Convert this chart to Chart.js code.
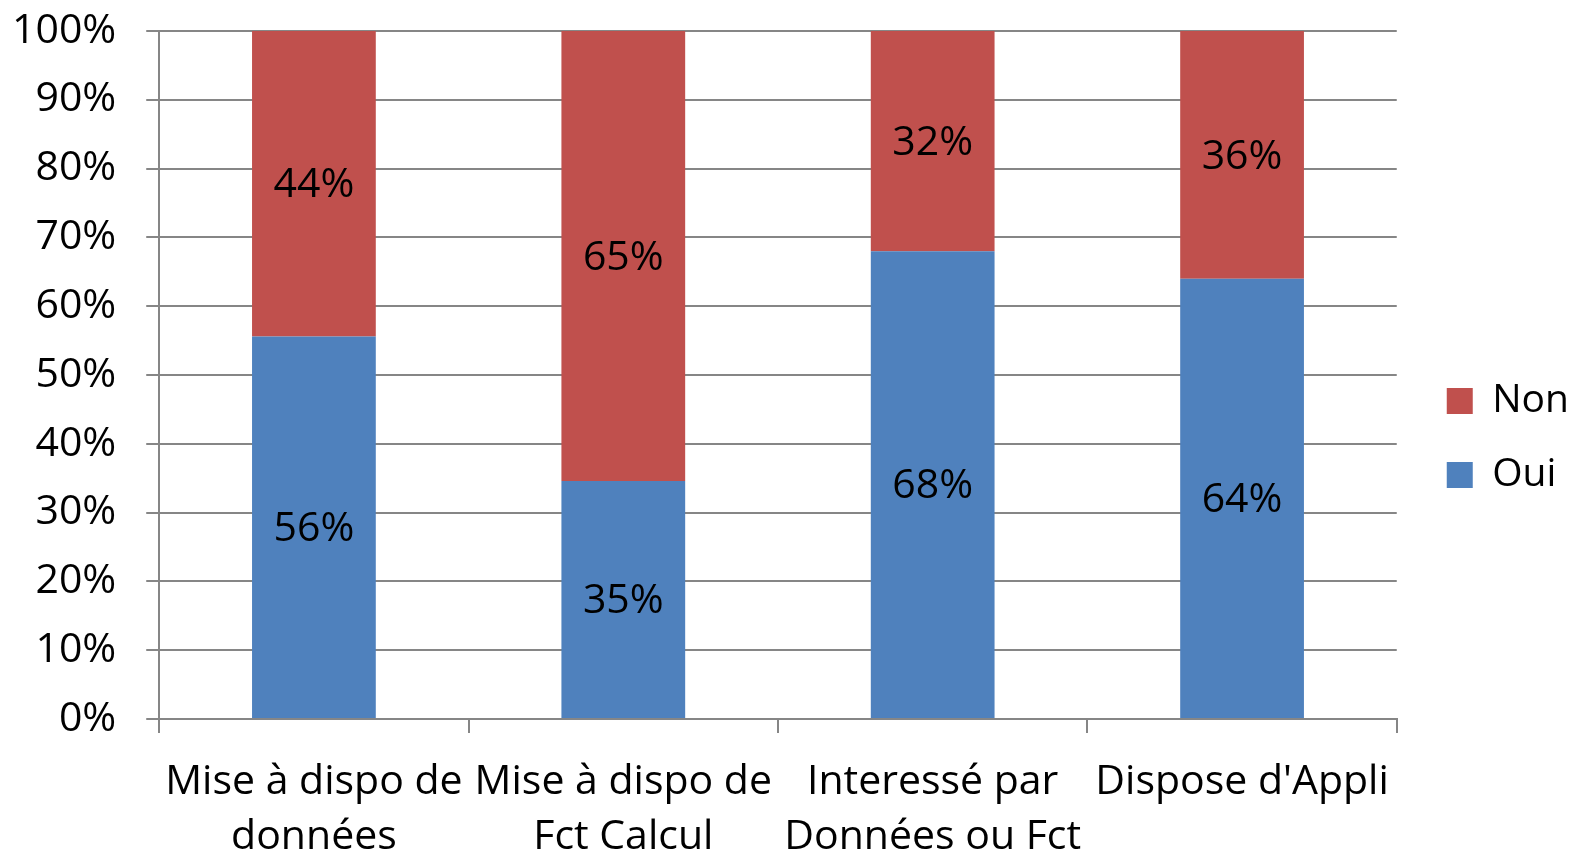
<!DOCTYPE html>
<html>
<head>
<meta charset="utf-8">
<script src="https://cdn.jsdelivr.net/npm/chart.js@4.4.1/dist/chart.umd.min.js"></script>
<style>
  html, body { margin: 0; padding: 0; background: #fff; }
  #wrap { width: 1579px; height: 863px; }
</style>
</head>
<body>
<div id="wrap"><canvas id="c" width="1579" height="863"></canvas></div>
<script>
const categories = [
  ["Mise à dispo de", "données"],
  ["Mise à dispo de", "Fct Calcul"],
  ["Interessé par", "Données ou Fct"],
  ["Dispose d'Appli"]
];
const seriesNames = ["Oui", "Non"];
const ouiValues = [55.6, 34.6, 68, 64];
const nonValues = [44.4, 65.4, 32, 36];
const yTicks = [0, 10, 20, 30, 40, 50, 60, 70, 80, 90, 100];

const FONT = "'Open Sans', sans-serif";
const GRID = '#868686';
const LEGEND_GAP = 15;
const LEGEND_SHIFT_UP = 9;

const dataLabelPlugin = {
  id: 'dataLabels',
  afterDatasetsDraw(chart) {
    const ctx = chart.ctx;
    ctx.save();
    ctx.font = '41px ' + FONT;
    ctx.fillStyle = '#000';
    ctx.textAlign = 'center';
    ctx.textBaseline = 'middle';
    chart.data.datasets.forEach((ds, di) => {
      const meta = chart.getDatasetMeta(di);
      meta.data.forEach((el, i) => {
        const y = (el.y + el.base) / 2;
        ctx.fillText(Math.round(ds.data[i]) + '%', el.x, y + 2);
      });
    });
    ctx.restore();
  }
};

// leave a gap between the plot area and the legend, and nudge the legend up
const legendGapPlugin = {
  id: 'legendGap',
  beforeLayout(chart) {
    const lg = chart.legend;
    if (lg && !lg._gapPatched) {
      const orig = lg.fit;
      lg.fit = function () { orig.call(this); this.width += LEGEND_GAP; };
      lg._gapPatched = true;
    }
  },
  afterLayout(chart) {
    const lg = chart.legend;
    if (lg) {
      lg.left += LEGEND_GAP; lg.width -= LEGEND_GAP;
      lg.top -= LEGEND_SHIFT_UP; lg.bottom -= LEGEND_SHIFT_UP;
    }
  }
};

new Chart(document.getElementById('c'), {
  type: 'bar',
  data: {
    labels: categories,
    datasets: [
      { label: seriesNames[0], data: ouiValues, backgroundColor: '#4F81BD', barPercentage: 0.4, categoryPercentage: 1 },
      { label: seriesNames[1], data: nonValues, backgroundColor: '#C0504D', barPercentage: 0.4, categoryPercentage: 1 }
    ]
  },
  options: {
    responsive: false,
    animation: false,
    layout: { padding: { left: 12, top: 31, right: 0, bottom: 0 } },
    plugins: {
      tooltip: { enabled: false },
      legend: {
        position: 'right',
        reverse: true,
        labels: {
          boxWidth: 26, boxHeight: 26, padding: 35,
          color: '#000',
          font: { family: FONT, size: 39 }
        }
      }
    },
    scales: {
      x: {
        stacked: true,
        grid: { display: true, offset: true, drawOnChartArea: false, color: GRID, tickLength: 14, lineWidth: 2 },
        border: { display: true, color: GRID, width: 2 },
        ticks: { color: '#000', font: { family: FONT, size: 41, lineHeight: 1.34 }, padding: 22, maxRotation: 0, autoSkip: false },
        afterFit(axis) { axis.height -= 24; axis.paddingLeft = 0; axis.paddingRight = 0; }
      },
      y: {
        stacked: true,
        min: 0, max: 100,
        afterBuildTicks(axis) { axis.ticks = yTicks.map(v => ({ value: v })); },
        grid: { color: GRID, lineWidth: 2, tickLength: 13 },
        border: { display: true, color: GRID, width: 2 },
        ticks: { color: '#000', font: { family: FONT, size: 41, lineHeight: 1 }, padding: 30, callback: v => v + '%' },
        afterFit(axis) { axis.width -= 30; axis.paddingTop = 0; axis.paddingBottom = 0; }
      }
    }
  },
  plugins: [dataLabelPlugin, legendGapPlugin]
});
</script>
</body>
</html>
